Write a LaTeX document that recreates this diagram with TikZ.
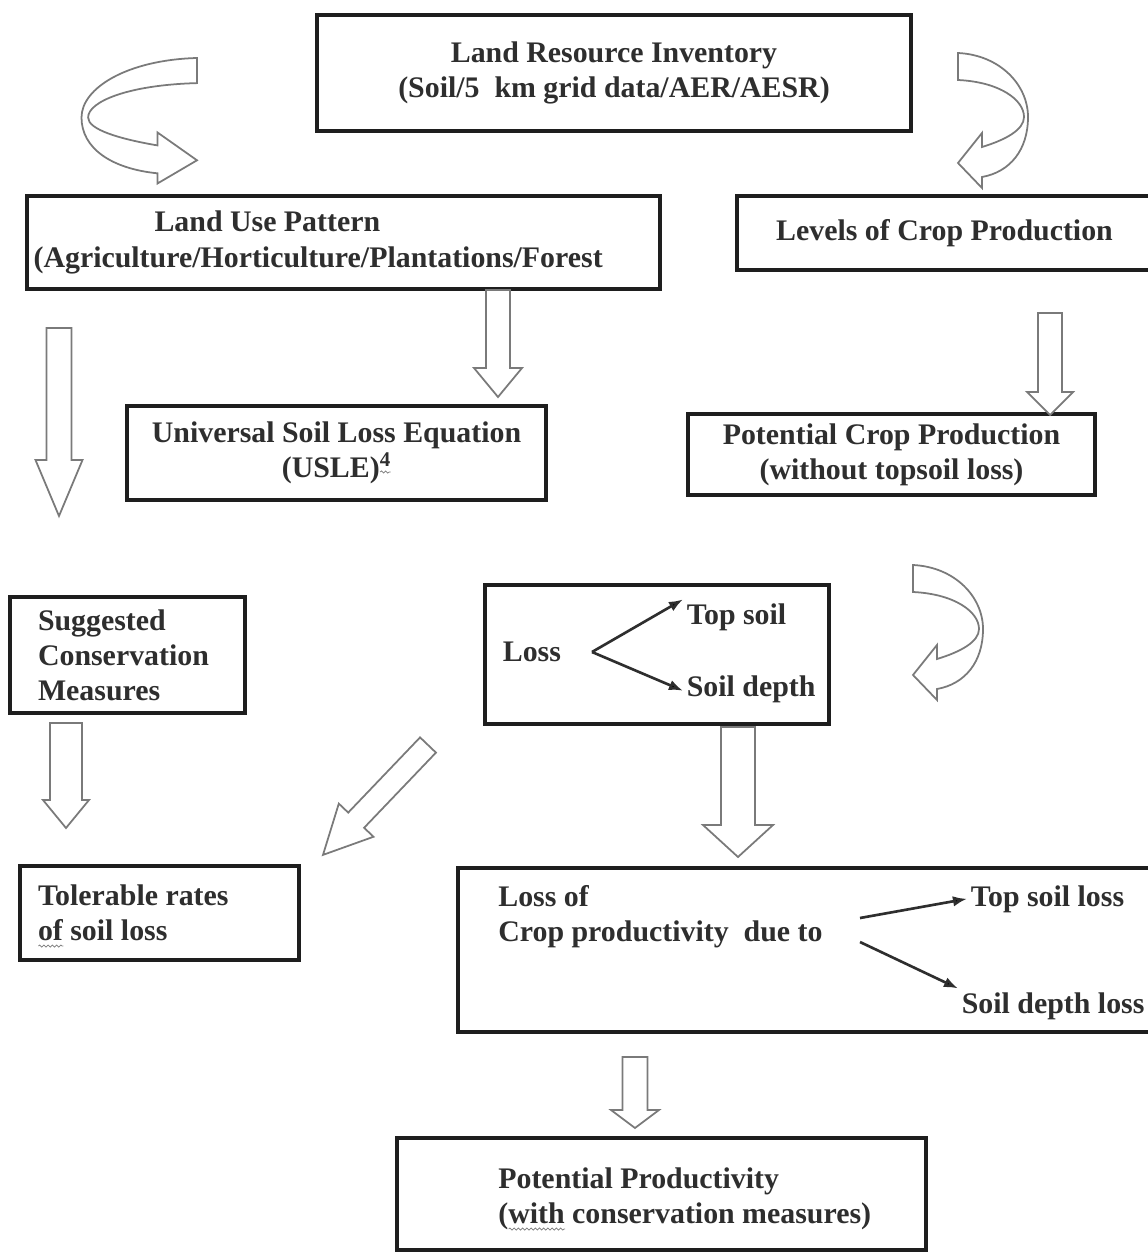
\documentclass[tikz,border=0pt]{standalone}
\usepackage{fontspec}
\setmainfont{Liberation Serif}
\usepackage{xcolor}
\definecolor{frameBlack}{HTML}{1E1E1E}
\definecolor{bodyText}{HTML}{2E2E2E}
\definecolor{arrowGray}{HTML}{7A7A7A}
\usepackage{tikz}
\usetikzlibrary{
    arrows.meta,
    decorations.pathmorphing,
    positioning
}
% wavy spell-check underline
\newsavebox{\wavybox}
\newcommand{\wavy}[1]{\leavevmode\sbox{\wavybox}{#1}%
    \rlap{\smash{\tikz[baseline=0pt]\draw[arrowGray, line width=0.4pt, decorate,
        decoration={snake, amplitude=0.6pt, segment length=2.4pt}] (0pt,-3pt) -- (\wd\wavybox,-3pt);}}%
    \usebox{\wavybox}}
\tikzset{
    % Box with a heavy black frame
    boxframe/.style={
        rectangle,
        draw=frameBlack,
        line width=2.2pt,
        inner sep=0pt,
    },
    % Text of the boxes
    boxtext/.style={
        font=\fontsize{17}{20}\selectfont\bfseries,
        text=bodyText,
    },
    % Hollow outline arrows
    hollow/.style={
        draw=arrowGray,
        line width=1pt,
        fill=white,
        line join=miter,
    },
    % Thin arrows inside the loss boxes
    forkarrow/.style={
        -{Latex[length=8pt, width=6pt]},
        line width=1.5pt,
        draw=bodyText,
    },
    % Straight block arrow along x from its tail: length/shaft/head/head length
    pics/blockarrow/.style args={#1/#2/#3/#4}{code={
        \draw[hollow] (0,-#2) -- ({#1-#4},-#2) -- ({#1-#4},-#3) -- (#1,0)
            -- ({#1-#4},#3) -- ({#1-#4},#2) -- (0,#2) -- cycle;
    }},
    % Bent block arrow, tail at the origin
    pics/bentarrow/.style={code={
        \draw[hollow] (0,0) .. controls (42,2) and (70,32) .. (70,64)
            .. controls (70,97) and (52,119) .. (24,124) -- (24,135) -- (0,110)
            -- (24,80) -- (24,94) .. controls (47,87) and (66,77) .. (66,64)
            .. controls (66,47) and (42,29) .. (0,27) -- cycle;
    }},
}

\begin{document}
\begin{tikzpicture}[x=0.02cm, y=-0.02cm]
    \path[use as bounding box, fill=white] (0,0) rectangle (1148,1253);
    \clip (0,0) rectangle (1148,1253);

    % boxes
    \node (inventory) [boxframe, boxtext, align=center, minimum width=11.88cm, minimum height=2.32cm] at (614,73)
        {Land Resource Inventory\\(Soil/5\ \ km grid data/AER/AESR)};
    \node (landuse) [boxframe, boxtext, align=flush left, text width=12.4cm, minimum width=12.66cm, minimum height=1.86cm] at (343.5,242.5)
        {\hspace*{2.42cm}Land Use Pattern\\(Agriculture/Horticulture/Plantations/Forest};
    \node (levels) [boxframe, boxtext, minimum width=8.3cm, minimum height=1.48cm] at (944.5,233)
        {Levels of Crop Production};
    \node (usle) [boxframe, boxtext, align=center, minimum width=8.38cm, minimum height=1.88cm] at (336.5,453)
        {Universal Soil Loss Equation\\(USLE)\textsuperscript{\wavy{4}}};
    \node (potcrop) [boxframe, boxtext, align=center, minimum width=8.14cm, minimum height=1.62cm] at (891.5,454.5)
        {Potential Crop Production\\(without topsoil loss)};
    \node (suggested) [boxframe, boxtext, align=flush left, text width=3.58cm, minimum width=4.7cm, minimum height=2.32cm] at (127.5,655)
        {Suggested\\Conservation\\Measures};
    \node (lossbox) [boxframe, minimum width=6.88cm, minimum height=2.78cm] at (657,654.5) {};
    \node (tolerable) [boxframe, boxtext, align=flush left, text width=4.86cm, minimum width=5.58cm, minimum height=1.88cm] at (159.5,913)
        {Tolerable rates\\\wavy{of} soil loss};
    \node (cropbox) [boxframe, minimum width=13.88cm, minimum height=3.28cm] at (805,950) {};
    \node (potprod) [boxframe, minimum width=10.58cm, minimum height=2.24cm] at (661.5,1194) {};

    % texts inside the loss boxes
    \node (loss) [boxtext, anchor=base west, inner sep=2pt] at (499,661) {Loss};
    \node (topsoil) [boxtext, anchor=base west, inner sep=2pt] at (683,624) {Top soil};
    \node (soildepth) [boxtext, anchor=base west, inner sep=2pt] at (683,696) {Soil depth};
    \coordinate (lossfork) at (592,652);
    \node (cropdue) [boxtext, anchor=west, align=flush left, inner sep=0pt] at (498,917)
        {Loss of\\Crop productivity\ \ due to};
    \node (topsoilloss) [boxtext, anchor=base west, inner sep=2pt] at (967,906) {Top soil loss};
    \node (soildepthloss) [boxtext, anchor=base west, inner sep=2pt] at (958,1013) {Soil depth loss};
    \coordinate (forkup) at (860,918);
    \coordinate (forkdown) at (860,942);
    \node (potprodtext) [boxtext, anchor=west, align=flush left, inner sep=0pt] at (498,1199)
        {Potential Productivity\\(\wavy{with} conservation measures)};

    \draw [forkarrow] (lossfork) -- (topsoil.north west);
    \draw [forkarrow] (lossfork) -- ([yshift=3pt]soildepth.base west);
    \draw [forkarrow] (forkup) -- (topsoilloss.west);
    \draw [forkarrow] (forkdown) -- (soildepthloss.north west);

    % hollow arrows
    \pic [xscale=-1.65, yscale=0.93] at (197,58) {bentarrow};
    \pic at (958,53) {bentarrow};
    \pic at (913,565) {bentarrow};
    \pic [rotate=-90] at (59,328) {blockarrow={188/12.5/23.5/56}};
    \pic [rotate=-90] at (498,290) {blockarrow={107/12/24/29}};
    \pic [rotate=-90] at (1050,313) {blockarrow={102/12/23/23}};
    \pic [rotate=-90] at (66,723) {blockarrow={105/16/23/28}};
    \pic [rotate=-90] at (738,727) {blockarrow={130/17/35/32}};
    \pic [rotate=-133.7] at (428,745) {blockarrow={152/11/24/48}};
    \pic [rotate=-90] at (635,1057) {blockarrow={71/12.5/24/18}};
\end{tikzpicture}
\end{document}
